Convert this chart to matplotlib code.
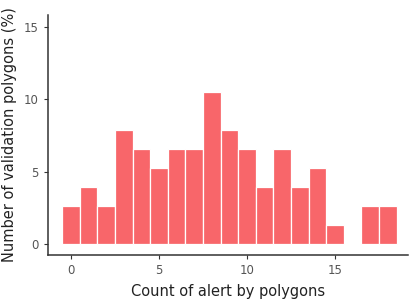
import numpy as np
import matplotlib
matplotlib.use("Agg")
import matplotlib.pyplot as plt

# alert counts and share of validation polygons (%)
counts = list(range(19))
percent = [2.63, 3.95, 2.63, 7.89, 6.58, 5.26, 6.58, 6.58, 10.53, 7.89,
           6.58, 3.95, 6.58, 3.95, 5.26, 1.32, 0.0, 2.63, 2.63]
xticks = [0, 5, 10, 15]
yticks = [0, 5, 10, 15]

fig = plt.figure(figsize=(4.13, 3.0), dpi=100)
ax = fig.add_axes([0.116, 0.15, 0.872, 0.80])

ax.bar(counts, percent, width=1.0, color="#F8666A", edgecolor="white", linewidth=0.9)

ax.set_xlim(-1.31, 19.15)
ax.set_ylim(-0.76, 15.83)
ax.set_xticks(xticks)
ax.set_yticks(yticks)
ax.tick_params(colors="#333333", labelcolor="#555555", labelsize=8.5, length=3, width=0.8)

for s in ["top", "right"]:
    ax.spines[s].set_visible(False)
for s in ["left", "bottom"]:
    ax.spines[s].set_color("#333333")
    ax.spines[s].set_linewidth(1.1)

ax.set_xlabel("Count of alert by polygons", fontsize=10.5, color="#222222", labelpad=5)
ax.set_ylabel("Number of validation polygons (%)", fontsize=10.5, color="#222222", labelpad=5)

fig.savefig("out.png", dpi=100)
